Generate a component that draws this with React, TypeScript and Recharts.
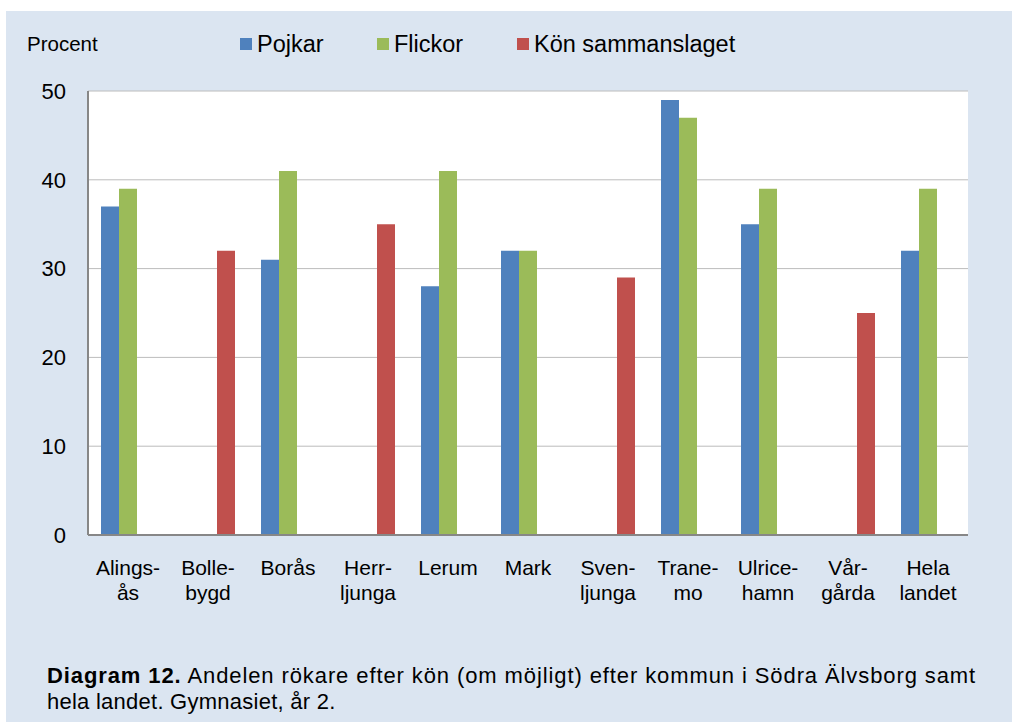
import { BarChart, Bar, XAxis, YAxis, CartesianGrid, Legend } from 'recharts'

const categories = ['Alingsås', 'Bollebygd', 'Borås', 'Herrljunga', 'Lerum', 'Mark', 'Svenljunga', 'Tranemo', 'Ulricehamn', 'Vårgårda', 'Hela landet']
const tickLines = [
  ['Alings-', 'ås'],
  ['Bolle-', 'bygd'],
  ['Borås', ''],
  ['Herr-', 'ljunga'],
  ['Lerum', ''],
  ['Mark', ''],
  ['Sven-', 'ljunga'],
  ['Trane-', 'mo'],
  ['Ulrice-', 'hamn'],
  ['Vår-', 'gårda'],
  ['Hela', 'landet'],
]
const pojkar = [37, null, 31, null, 28, 32, null, 49, 35, null, 32]
const flickor = [39, null, 41, null, 41, 32, null, 47, 39, null, 39]
const sammanslaget = [null, 32, null, 35, null, null, 29, null, null, 25, null]
const yTicks = [0, 10, 20, 30, 40, 50]

const series = [
  { key: 'Pojkar', color: '#4f81bd' },
  { key: 'Flickor', color: '#9bbb59' },
  { key: 'Kön sammanslaget', color: '#c0504d' },
]

const data = categories.map((name, i) => ({
  name,
  Pojkar: pojkar[i],
  Flickor: flickor[i],
  'Kön sammanslaget': sammanslaget[i],
}))

const FONT = 'Arial, "Liberation Sans", sans-serif'
const BORDER = '#878787'

function CategoryTick(props: any) {
  const { x, y, payload } = props
  const lines = tickLines[payload.index] || [payload.value, '']
  return (
    <g>
      <text x={x} y={y + 32} textAnchor="middle" fontSize={21} fill="#000" fontFamily={FONT}>
        {lines[0]}
      </text>
      {lines[1] && (
        <text x={x} y={y + 57} textAnchor="middle" fontSize={21} fill="#000" fontFamily={FONT}>
          {lines[1]}
        </text>
      )}
    </g>
  )
}

function TopLegend() {
  const xs = [240, 377, 517]
  return (
    <div style={{ position: 'relative', width: 1012, height: 30, fontFamily: FONT, color: '#000' }}>
      <span style={{ position: 'absolute', left: 27, top: 0, fontSize: 20.5, lineHeight: '30px' }}>Procent</span>
      {series.map((s, i) => (
        <span key={s.key} style={{ position: 'absolute', left: xs[i], top: 0, fontSize: 23.5, lineHeight: '30px', whiteSpace: 'nowrap' }}>
          <span style={{ display: 'inline-block', width: 12, height: 12, background: s.color, marginRight: 5, verticalAlign: 'middle', position: 'relative', top: -2 }} />
          {s.key}
        </span>
      ))}
    </div>
  )
}

export default function App() {
  return (
    <div style={{ position: 'fixed', left: 0, top: 0, width: 1012, height: 722, background: '#fff', overflow: 'hidden' }}>
      <div style={{ position: 'absolute', left: 6, top: 11, width: 1006, height: 711, background: '#dbe5f1' }} />
      <div style={{ position: 'absolute', left: 0, top: 0 }}>
        <BarChart
          width={1012}
          height={620}
          data={data}
          margin={{ top: 91, right: 44, left: 0, bottom: 25 }}
          barCategoryGap={13}
          barGap={0}
        >
          <CartesianGrid vertical={false} stroke="#bcbcbc" fill="#fff" />
          <XAxis
            dataKey="name"
            height={60}
            interval={0}
            tickLine={false}
            axisLine={{ stroke: BORDER, strokeWidth: 2 }}
            tick={<CategoryTick />}
          />
          <XAxis xAxisId="top" orientation="top" height={0} tick={false} tickLine={false} axisLine={{ stroke: BORDER, strokeWidth: 2 }} />
          <YAxis
            width={88}
            domain={[0, 50]}
            ticks={yTicks}
            interval={0}
            tickLine={false}
            tickSize={0}
            tickMargin={22}
            axisLine={{ stroke: BORDER, strokeWidth: 2 }}
            tick={{ fontSize: 22, fill: '#000', fontFamily: FONT }}
          />
          <YAxis yAxisId="right" orientation="right" width={0} tick={false} tickLine={false} axisLine={{ stroke: BORDER, strokeWidth: 2 }} />
          <Legend
            verticalAlign="middle"
            align="center"
            layout="horizontal"
            wrapperStyle={{ top: 29, left: 0, width: 1012 }}
            content={() => <TopLegend />}
          />
          {series.map((s) => (
            <Bar key={s.key} dataKey={s.key} fill={s.color} isAnimationActive={false} />
          ))}
        </BarChart>
      </div>
      <div
        style={{
          position: 'absolute',
          left: 47,
          top: 663,
          width: 965,
          fontFamily: FONT,
          fontSize: 22,
          lineHeight: '26px',
          color: '#000',
          whiteSpace: 'nowrap',
        }}
      >
        <div style={{ letterSpacing: 0.9 }}>
          <b>Diagram 12.</b> Andelen rökare efter kön (om möjligt) efter kommun i Södra Älvsborg samt
        </div>
        <div style={{ letterSpacing: 0.25 }}>hela landet. Gymnasiet, år 2.</div>
      </div>
    </div>
  )
}
